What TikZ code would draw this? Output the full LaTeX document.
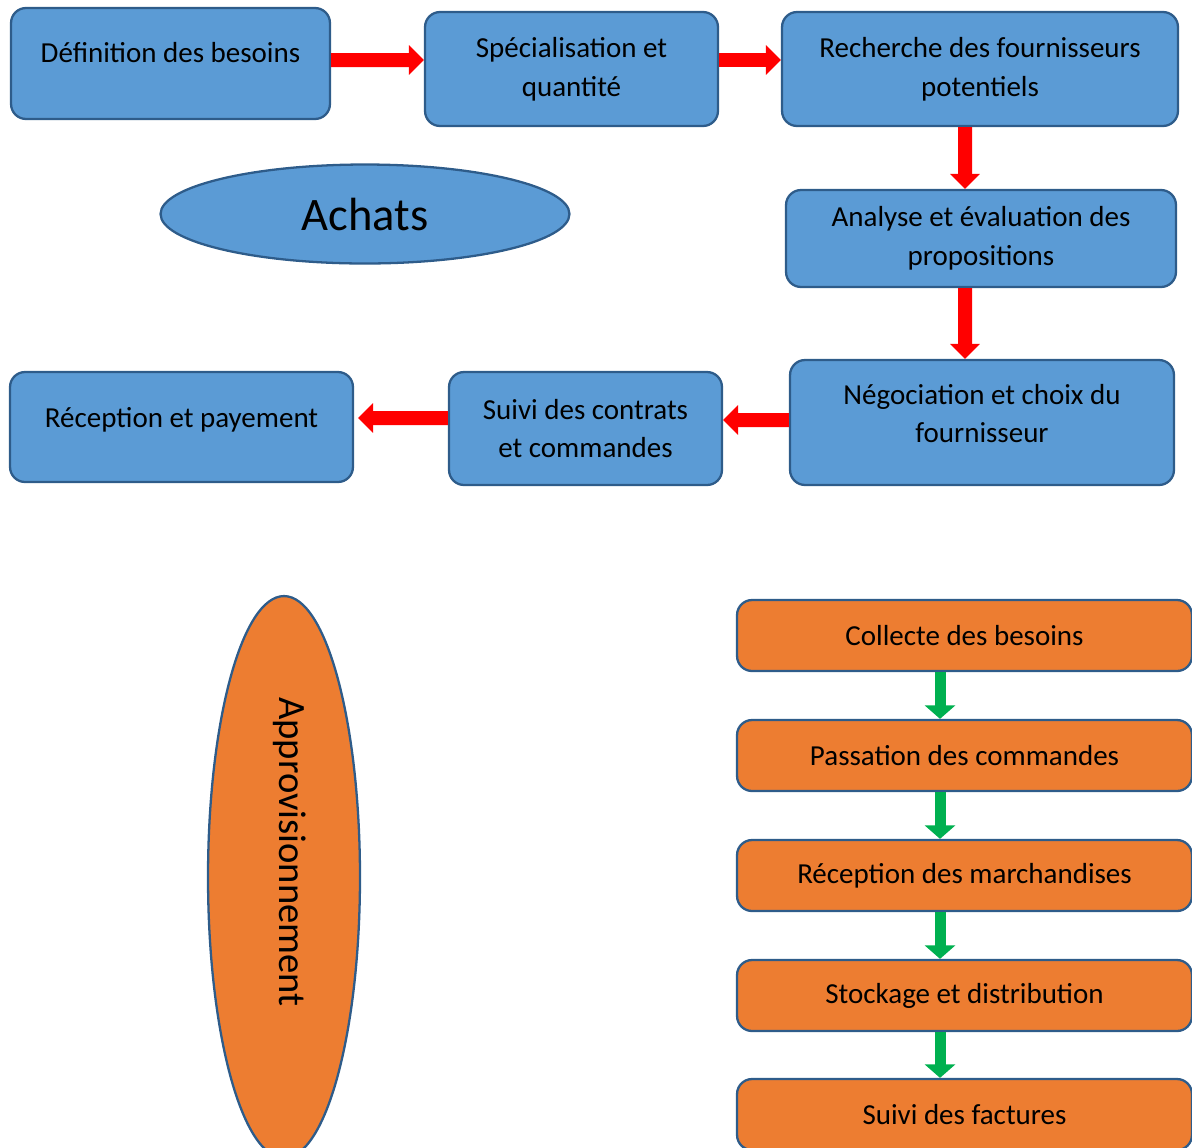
\documentclass[tikz,border=0pt]{standalone}
\usepackage{fontspec}
\setmainfont{Carlito}
\usepackage{tikz}
\usetikzlibrary{shapes.geometric,arrows.meta}
\definecolor{boxblue}{HTML}{5B9BD5}
\definecolor{boxorange}{HTML}{ED7D31}
\definecolor{edgeblue}{HTML}{2E5C8A}
\definecolor{arrowgreen}{HTML}{00B050}
\tikzset{
	bluebox/.style={draw=edgeblue, line width=1.3pt, fill=boxblue, rounded corners=0.3cm, align=center, font=\fontsize{16.5}{22}\selectfont},
	orangebox/.style={draw=edgeblue, line width=1.3pt, fill=boxorange, rounded corners=0.3cm, minimum width=9.1cm, minimum height=1.42cm, font=\fontsize{16.5}{22}\selectfont},
	redarrow/.style={draw=red, line width=0.28cm, -{Triangle[width=0.58cm, length=0.3cm]}},
	greenarrow/.style={draw=arrowgreen, line width=0.22cm, -{Triangle[width=0.6cm, length=0.27cm]}}
}

\begin{document}
\begin{tikzpicture}[x=0.02cm, y=-0.02cm]
	\clip (0,0) rectangle (1192,1147);
	%%%nodes
	%achats
	\node[bluebox, minimum width=6.38cm, minimum height=2.22cm, text depth=0.44cm] at (170.5,63.5) (def){D\'efinition des besoins};
	\node[bluebox, minimum width=5.86cm, minimum height=2.28cm] at (571.5,69) (spec){Sp\'ecialisation et\\quantit\'e};
	\node[bluebox, minimum width=7.92cm, minimum height=2.28cm] at (980,69) (rech){Recherche des fournisseurs\\potentiels};
	\node[bluebox, minimum width=7.80cm, minimum height=1.94cm] at (981,238.5) (anal){Analyse et \'evaluation des\\propositions};
	\node[bluebox, minimum width=7.68cm, minimum height=2.50cm, text depth=0.36cm] at (982,422.5) (nego){N\'egociation et choix du\\fournisseur};
	\node[bluebox, minimum width=5.46cm, minimum height=2.26cm] at (585.5,428.5) (suivi){Suivi des contrats\\et commandes};
	\node[bluebox, minimum width=6.86cm, minimum height=2.20cm, text depth=0.40cm] at (181.5,427) (recep){R\'eception et payement};
	\node[ellipse, draw=edgeblue, line width=1.3pt, fill=boxblue, minimum width=8.18cm, minimum height=1.98cm, inner sep=0pt, font=\fontsize{26.5}{30}\selectfont] at (365,214) (achats){Achats};
	%approvisionnement
	\node[ellipse, draw=edgeblue, line width=1.3pt, fill=boxorange, minimum width=3.04cm, minimum height=11.24cm, inner sep=0pt] at (284,877) (appro){};
	\node[rotate=-90, font=\fontsize{22}{26}\selectfont] at (290,852) (approtext){Approvisionnement};
	\node[orangebox] at (964.5,635.5) (col){Collecte des besoins};
	\node[orangebox] at (964.5,755.5) (pas){Passation des commandes};
	\node[orangebox] at (964.5,875.5) (rec){R\'eception des marchandises};
	\node[orangebox] at (964.5,995.5) (sto){Stockage et distribution};
	\node[orangebox] at (964.5,1114.5) (fac){Suivi des factures};
	%%%links
	%top row
	\draw[redarrow] ([yshift=0.07cm]def.east) -- ([yshift=0.18cm]spec.west);
	\draw[redarrow] ([yshift=0.18cm]spec.east) -- ([yshift=0.18cm]rech.west);
	%right column
	\draw[redarrow] ([xshift=-0.3cm]rech.south) -- ([xshift=-0.32cm]anal.north);
	\draw[redarrow] ([xshift=-0.32cm]anal.south) -- ([xshift=-0.34cm]nego.north);
	%bottom row
	\draw[redarrow] ([yshift=0.05cm]nego.west) -- ([yshift=0.17cm]suivi.east);
	\draw[redarrow] ([yshift=0.21cm]suivi.west) -- ([yshift=0.18cm, xshift=0.08cm]recep.east);
	%orange column
	\draw[greenarrow] ([xshift=-0.49cm]col.south) -- ([xshift=-0.49cm]pas.north);
	\draw[greenarrow] ([xshift=-0.49cm]pas.south) -- ([xshift=-0.49cm]rec.north);
	\draw[greenarrow] ([xshift=-0.49cm]rec.south) -- ([xshift=-0.49cm]sto.north);
	\draw[greenarrow] ([xshift=-0.49cm]sto.south) -- ([xshift=-0.49cm]fac.north);
\end{tikzpicture}
\end{document}
